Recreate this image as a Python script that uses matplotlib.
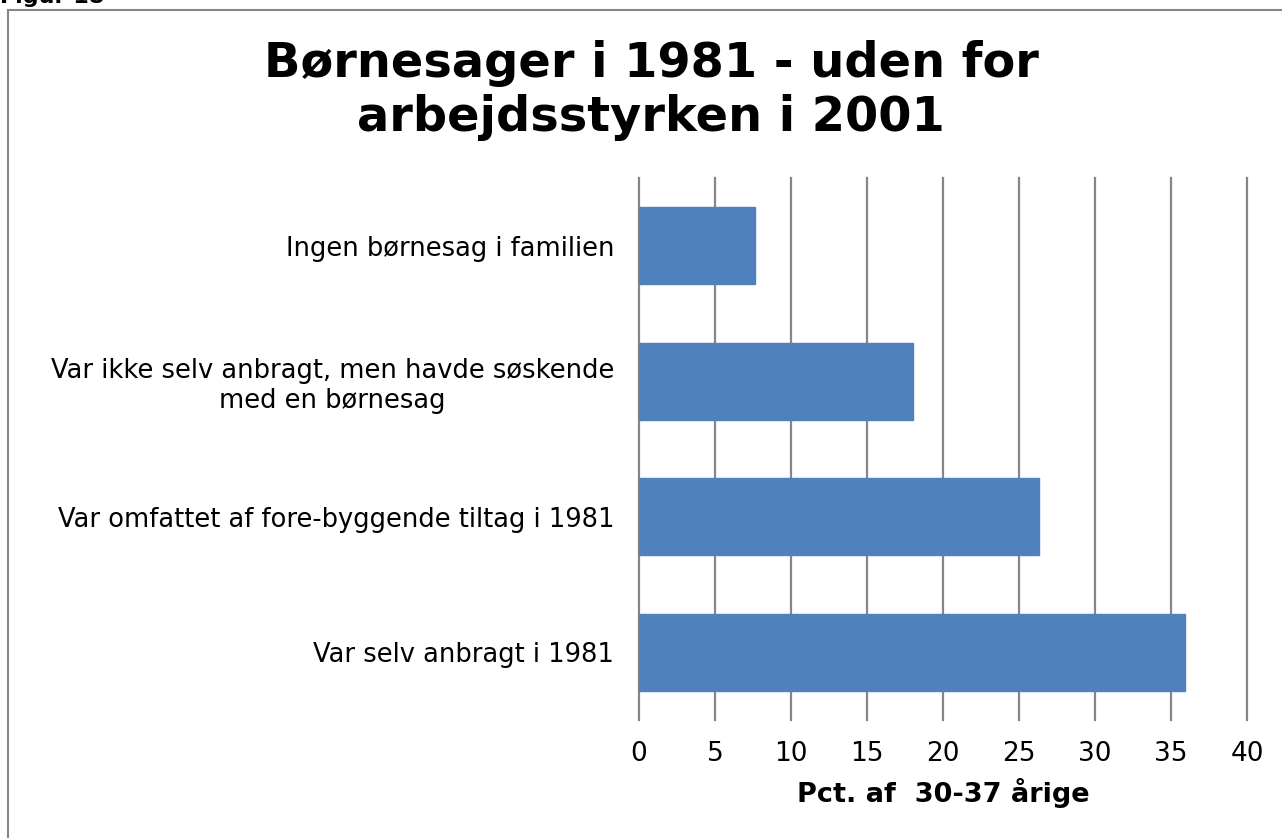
import numpy as np
import matplotlib.pyplot as plt
from matplotlib.patches import Rectangle

# Data (top to bottom)
categories = [
    "Ingen børnesag i familien",
    "Var ikke selv anbragt, men havde søskende\nmed en børnesag",
    "Var omfattet af fore-byggende tiltag i 1981",
    "Var selv anbragt i 1981",
]
values = [7.6, 18.0, 26.3, 35.9]
x_ticks = [0, 5, 10, 15, 20, 25, 30, 35, 40]

W, H = 1282, 838
fig = plt.figure(figsize=(W / 100, H / 100), dpi=100)
fig.patch.set_facecolor('white')

# outer chart border (extends off the right/bottom edge)
fig.patches.append(Rectangle((8 / W, -0.05), 1.2, 1 - 10 / H + 0.05,
                             transform=fig.transFigure, fill=False,
                             edgecolor='#868686', linewidth=1.5))

fig.text(0.0, 1 - 3 / H, "Figur 18", fontsize=16, fontweight='bold',
         va='baseline', ha='left')

fig.text(651 / W, 1 - 40 / H, "Børnesager i 1981 - uden for\narbejdsstyrken i 2001",
         fontsize=34.5, fontweight='bold', ha='center', va='top', linespacing=1.2)

ax = fig.add_axes([639 / W, 1 - 720 / H, (1247 - 639) / W, (720 - 178) / H])
y = np.arange(len(categories))[::-1]
ax.barh(y, values, height=0.57, color='#4F81BD', edgecolor='#4F81BD', zorder=3)

ax.set_xlim(0, 40)
ax.set_ylim(-0.5, len(categories) - 0.5)
ax.set_xticks(x_ticks)
ax.set_xticklabels([str(t) for t in x_ticks], fontsize=19)
ax.set_yticks(y)
ax.set_yticklabels(categories, fontsize=18.5)
for lbl in ax.get_yticklabels():
    lbl.set_multialignment('center')
ax.tick_params(axis='both', length=0)
ax.tick_params(axis='x', pad=15)
ax.tick_params(axis='y', pad=18)
ax.xaxis.grid(True, color='#868686', linewidth=1.6, zorder=0)
for gl in ax.get_xgridlines():
    gl.set_clip_on(False)
for s in ax.spines.values():
    s.set_visible(False)
ax.set_xlabel("Pct. af  30-37 årige", fontsize=19.5, fontweight='bold', labelpad=8)

fig.savefig("out.png", dpi=100)
